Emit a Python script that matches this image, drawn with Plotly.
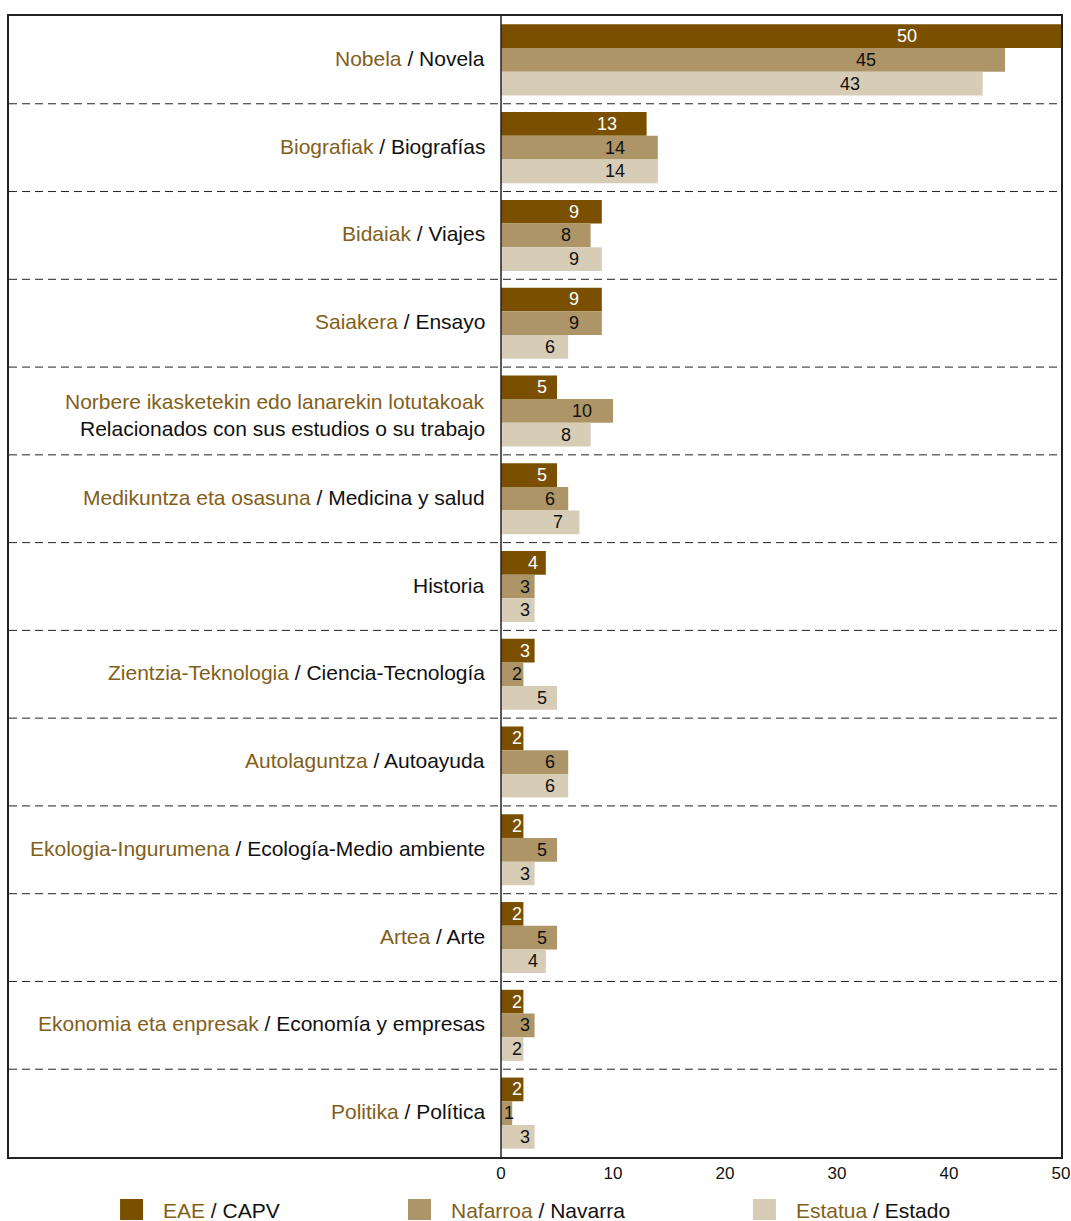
import plotly.graph_objects as go

# Reading genres: Basque name / Spanish name
genre_eu = ["Nobela", "Biografiak", "Bidaiak", "Saiakera",
            "Norbere ikasketekin edo lanarekin lotutakoak",
            "Medikuntza eta osasuna", "", "Zientzia-Teknologia",
            "Autolaguntza", "Ekologia-Ingurumena", "Artea",
            "Ekonomia eta enpresak", "Politika"]
genre_es = ["Novela", "Biografías", "Viajes", "Ensayo",
            "Relacionados con sus estudios o su trabajo",
            "Medicina y salud", "Historia", "Ciencia-Tecnología",
            "Autoayuda", "Ecología-Medio ambiente", "Arte",
            "Economía y empresas", "Política"]
two_line = [False, False, False, False, True, False, False, False,
            False, False, False, False, False]

# Percentages per territory
eae = [50, 13, 9, 9, 5, 5, 4, 3, 2, 2, 2, 2, 2]
nafarroa = [45, 14, 8, 9, 10, 6, 3, 2, 6, 5, 5, 3, 1]
estatua = [43, 14, 9, 6, 8, 7, 3, 5, 6, 3, 4, 2, 3]

series_eu = ["EAE", "Nafarroa", "Estatua"]
series_es = ["CAPV", "Navarra", "Estado"]
colors = ["#7a4f00", "#ad9567", "#d7ccb5"]
label_colors = ["#ffffff", "#111111", "#111111"]
GOLD = "#82601a"
FONT = "Liberation Sans, Arial, Helvetica, sans-serif"

x_ticks = [0, 10, 20, 30, 40, 50]

W, H = 1079, 1221
ML, MR, MT, MB = 9, 10, 16, 64
plot_w = W - ML - MR
plot_h = H - MT - MB
x_min, x_max = -43.93, 50

bargap = 0.19
n_cat = len(genre_es)
row_px = plot_h / n_cat
bar_px = row_px * (1 - bargap) / 3

fig = go.Figure()
for k, vals in enumerate([eae, nafarroa, estatua]):
    fig.add_trace(go.Bar(
        x=vals, y=genre_es, orientation="h",
        marker=dict(color=colors[k], line=dict(width=0)),
        name=series_es[k], showlegend=False, hoverinfo="x+y",
    ))

annotations = []
# value labels, placed within each bar
for k, vals in enumerate([eae, nafarroa, estatua]):
    for cat, v in zip(genre_es, vals):
        annotations.append(dict(
            x=v * 0.725, y=cat, xref="x", yref="y",
            text=str(v), showarrow=False, xanchor="center", yanchor="middle",
            yshift=(1 - k) * bar_px,
            font=dict(family=FONT, size=18, color=label_colors[k]),
        ))

# category labels to the left of the zero line
label_x = -1.25
for eu, es, wrap in zip(genre_eu, genre_es, two_line):
    if wrap:
        annotations.append(dict(
            x=label_x, y=es, xref="x", yref="y", text=eu, showarrow=False,
            xanchor="right", yanchor="middle", yshift=9,
            font=dict(family=FONT, size=21, color=GOLD)))
        annotations.append(dict(
            x=label_x, y=es, xref="x", yref="y", text=es, showarrow=False,
            xanchor="right", yanchor="middle", yshift=-18,
            font=dict(family=FONT, size=21, color="#111111")))
    else:
        txt = es if not eu else f"<span style='color:{GOLD}'>{eu}</span> / {es}"
        annotations.append(dict(
            x=label_x, y=es, xref="x", yref="y", text=txt, showarrow=False,
            xanchor="right", yanchor="middle", yshift=1.5,
            font=dict(family=FONT, size=21, color="#111111")))

shapes = []
# dashed separators between genres
for i in range(n_cat - 1):
    shapes.append(dict(type="line", xref="paper", yref="y", x0=0, x1=1,
                       y0=i + 0.5, y1=i + 0.5,
                       line=dict(color="#222222", width=1, dash="8px,5px")))
# zero line
shapes.append(dict(type="line", xref="x", yref="paper", x0=0, x1=0, y0=0, y1=1,
                   line=dict(color="#222222", width=1.5)))

# legend below the chart
leg_y = -(1210 - (MT + plot_h)) / plot_h
leg_sq_x = [0.1165, 0.3902, 0.7181]
leg_tx_x = [0.1445, 0.4183, 0.7462]
for k in range(3):
    shapes.append(dict(type="rect", xref="paper", yref="paper",
                       xsizemode="pixel", ysizemode="pixel",
                       xanchor=leg_sq_x[k], yanchor=leg_y,
                       x0=-11.5, x1=11.5, y0=-10, y1=11,
                       fillcolor=colors[k], line=dict(width=0)))
    annotations.append(dict(
        x=leg_tx_x[k], y=leg_y, xref="paper", yref="paper",
        text=f"<span style='color:{GOLD}'>{series_eu[k]}</span> / {series_es[k]}",
        showarrow=False, xanchor="left", yanchor="middle",
        font=dict(family=FONT, size=21, color="#111111")))

fig.update_layout(
    width=W, height=H, autosize=False,
    margin=dict(l=ML, r=MR, t=MT, b=MB, pad=0),
    paper_bgcolor="white", plot_bgcolor="white",
    barmode="group", bargap=bargap, bargroupgap=0,
    font=dict(family=FONT, size=17, color="#111111"),
    showlegend=False,
    annotations=annotations, shapes=shapes,
    xaxis=dict(range=[x_min, x_max], tickvals=x_ticks, ticks="",
               showgrid=False, zeroline=False,
               showline=True, mirror=True, linecolor="#222222", linewidth=1.5,
               tickfont=dict(family=FONT, size=17, color="#111111")),
    yaxis=dict(range=[n_cat - 0.5, -0.5], showticklabels=False, ticks="",
               showgrid=False, zeroline=False,
               showline=True, mirror=True, linecolor="#222222", linewidth=1.5),
)

fig.write_html("out.html", config={"responsive": False, "displayModeBar": False})
